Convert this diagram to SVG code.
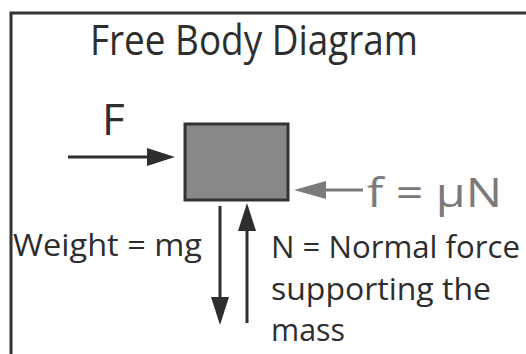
<svg xmlns="http://www.w3.org/2000/svg" width="526" height="354" viewBox="0 0 526 354">
<style>
.t{font-family:"Open Sans","Noto Sans","Liberation Sans",sans-serif;fill:#2e2e2e}
.g{fill:#7a7a7a}
.ln{stroke:#2e2e2e;stroke-width:3;fill:none}
.lg{stroke:#7a7a7a;stroke-width:3;fill:none}
</style>
<defs>
<marker id="ad" viewBox="0 0 28 18" refX="18" refY="9" markerWidth="28" markerHeight="18" markerUnits="userSpaceOnUse" orient="auto">
<path d="M0,0 L28,9 L0,18 z" fill="#2e2e2e"/>
</marker>
<marker id="ag" viewBox="0 0 32 18" refX="22" refY="9" markerWidth="32" markerHeight="18" markerUnits="userSpaceOnUse" orient="auto">
<path d="M0,0 L32,9 L0,18 z" fill="#7a7a7a"/>
</marker>
</defs>
<rect width="526" height="354" fill="#fff"/>
<path d="M11,354 V13 H526" fill="none" stroke="#333" stroke-width="3"/>
<text class="t" x="90" y="55" font-size="42" textLength="328" lengthAdjust="spacingAndGlyphs">Free Body Diagram</text>
<g id="mass">
<rect x="185" y="124" width="103" height="76" fill="#888" stroke="#333" stroke-width="3"/>
</g>
<g id="connectors">
<line class="ln" x1="68" y1="157" x2="165" y2="157" marker-end="url(#ad)"/>
<line class="ln" x1="220" y1="206" x2="220" y2="315" marker-end="url(#ad)"/>
<line class="ln" x1="247" y1="323" x2="247" y2="213" marker-end="url(#ad)"/>
<line class="lg" x1="363" y1="190" x2="304" y2="190" marker-end="url(#ag)"/>
</g>
<g id="label-F">
<text class="t" x="102" y="135" font-size="44">F</text>
</g>
<g id="label-weight">
<text class="t" x="13" y="256" font-size="31" textLength="189" lengthAdjust="spacingAndGlyphs">Weight = mg</text>
</g>
<g id="label-friction">
<text class="t g" x="367" y="207" font-size="40" textLength="135" lengthAdjust="spacingAndGlyphs">f = μN</text>
</g>
<g id="label-normal">
<text class="t" x="271" y="258" font-size="31" textLength="249" lengthAdjust="spacingAndGlyphs">N = Normal force</text>
<text class="t" x="271" y="300" font-size="31" textLength="220" lengthAdjust="spacingAndGlyphs">supporting the</text>
<text class="t" x="271" y="341" font-size="31" textLength="74" lengthAdjust="spacingAndGlyphs">mass</text>
</g>
</svg>
